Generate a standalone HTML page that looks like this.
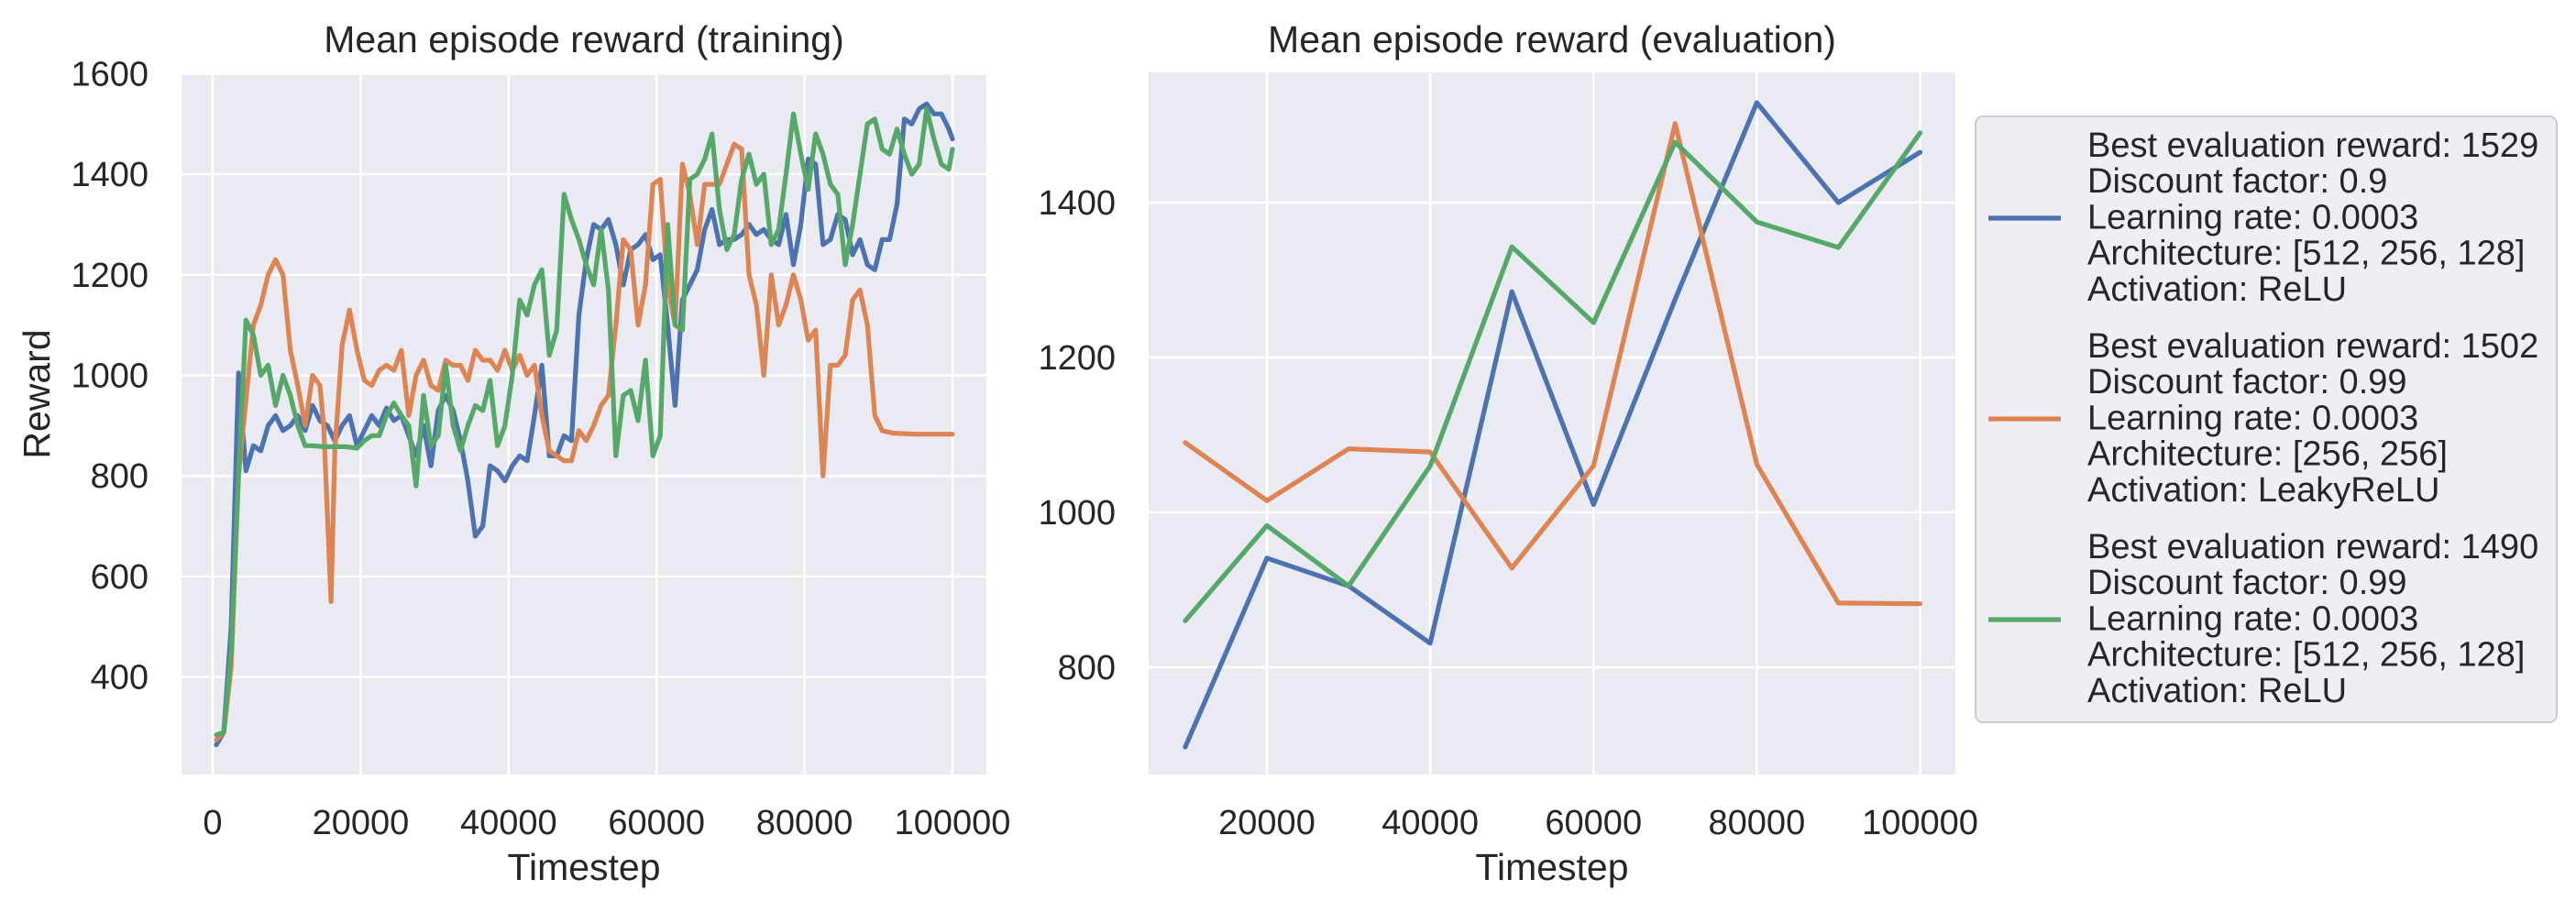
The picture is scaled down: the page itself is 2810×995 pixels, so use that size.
<!DOCTYPE html>
<html><head><meta charset="utf-8"><style>
html,body{margin:0;padding:0;background:#fff;}
svg text{font-family:"Liberation Sans",sans-serif;fill:#262626;}
</style></head><body>
<svg id="fig" width="2810" height="990" viewBox="0 0 2810 990" xmlns="http://www.w3.org/2000/svg">
<rect width="2810" height="990" fill="#fff"/>
<g id="left"></g>
<g id="right"></g>
<g id="legend"></g>
</svg>
<script>
// ---- training data (timestep in thousands) ----
const trainBlueX=[0.5,1.5,2.5,3.5,4,4.5,5.5,6.5,7.5,8.5,9.5,10.5,11.5,12.5,13.5,14.5,15.5,16.5,17.5,18.5,19.5,20.5,21.5,22.5,23.5,24.5,25.5,26.5,27.5,28.5,29.5,30.5,31.5,32.5,33.5,34.5,35.5,36.5,37.5,38.5,39.5,40.5,41.5,42.5,43.5,44.5,45.5,46.5,47.5,48.5,49.5,50.5,51.5,52.5,53.5,54.5,55.5,56.5,57.5,58.5,59.5,60.5,61.5,62.5,63.5,64.5,65.5,66.5,67.5,68.5,69.5,70.5,71.5,72.5,73.5,74.5,75.5,76.5,77.5,78.5,79.5,80.5,81.5,82.5,83.5,84.5,85.5,86.5,87.5,88.5,89.5,90.5,91.5,92.5,93.5,94.5,95.5,96.5,97.5,98.5,99.5,100];
const trainBlueY=[265,290,500,1005,900,810,860,850,900,920,890,900,920,890,940,910,900,870,900,920,860,890,920,900,935,910,920,880,840,900,820,930,960,930,870,790,680,700,820,810,790,820,840,830,920,1020,840,840,880,870,1120,1230,1300,1290,1310,1260,1180,1250,1260,1280,1230,1240,1100,940,1150,1180,1210,1290,1330,1260,1270,1270,1280,1300,1280,1290,1270,1260,1320,1220,1300,1430,1420,1260,1270,1320,1310,1240,1270,1220,1210,1270,1270,1340,1510,1500,1530,1540,1520,1520,1490,1470];
const trainOrangeX=[0.5,1.5,2.5,3.5,4.5,5.5,6.5,7.5,8.5,9.5,10.5,11.5,12.5,13.5,14.5,15,16,16.5,17.5,18.5,19.5,20.5,21.5,22.5,23.5,24.5,25.5,26.5,27.5,28.5,29.5,30.5,31.5,32.5,33.5,34.5,35.5,36.5,37.5,38.5,39.5,40.5,41.5,42.5,43.5,44.5,45.5,46.5,47.5,48.5,49.5,50.5,51.5,52.5,53.5,54.5,55.5,56.5,57.5,58.5,59.5,60.5,61.5,62.5,63.5,64.5,65.5,66.5,67.5,68.5,69.5,70.5,71.5,72.5,73.5,74.5,75.5,76.5,77.5,78.5,79.5,80.5,81.5,82.5,83.5,84.5,85.5,86.5,87.5,88.5,89.5,90.5,92,95,100];
const trainOrangeY=[275,290,420,800,950,1100,1140,1200,1230,1200,1050,980,900,1000,980,900,550,850,1060,1130,1050,990,980,1010,1020,1010,1050,920,1000,1030,980,970,1030,1020,1020,990,1050,1030,1030,1010,1050,1010,1040,1000,1020,920,850,840,830,830,890,870,900,940,960,1100,1270,1250,1100,1180,1380,1390,1180,1100,1420,1360,1260,1380,1380,1380,1420,1460,1450,1200,1140,1000,1200,1100,1140,1200,1150,1070,1090,800,1020,1020,1040,1150,1170,1100,920,890,885,883,883];
const trainGreenX=[0.5,1.5,2.5,3.5,4.5,5.5,6.5,7.5,8.5,9.5,10.5,11.5,12.5,13.5,15,18,19.5,20.5,21.5,22.5,23.5,24.5,25.5,26.5,27.5,28.5,29.5,30.5,31.5,32.5,33.5,34.5,35.5,36.5,37.5,38.5,39.5,40.5,41.5,42.5,43.5,44.5,45.5,46.5,47.5,48.5,49.5,50.5,51.5,52.5,53.5,54.5,55.5,56.5,57.5,58.5,59.5,60.5,61.5,62.5,63.5,64.5,65.5,66.5,67.5,68.5,69.5,70.5,71.5,72.5,73.5,74.5,75.5,76.5,77.5,78.5,79.5,80.5,81.5,82.5,83.5,84.5,85.5,86.5,87.5,88.5,89.5,90.5,91.5,92.5,93.5,94.5,95.5,96.5,97.5,98.5,99.5,100];
const trainGreenY=[285,290,450,800,1110,1080,1000,1020,940,1000,960,900,860,860,858,858,855,870,880,880,920,945,920,900,780,960,860,880,1020,900,850,900,940,930,990,860,900,1000,1150,1120,1180,1210,1040,1090,1360,1310,1270,1220,1180,1290,1170,840,960,970,910,1030,840,880,1300,1100,1090,1390,1400,1430,1480,1330,1250,1280,1390,1440,1380,1400,1260,1290,1400,1520,1440,1370,1480,1440,1380,1360,1220,1300,1400,1500,1510,1450,1440,1490,1440,1400,1420,1530,1470,1420,1410,1450];
// ---- evaluation data ----
const evalX=[10000,20000,30000,40000,50000,60000,70000,80000,90000,100000];
const evalBlue=[697,941,905,831,1285,1010,1275,1529,1400,1465];
const evalOrange=[1090,1015,1082,1078,928,1060,1502,1062,883,882];
const evalGreen=[860,983,905,1060,1343,1245,1478,1375,1342,1490];
// ---- ticks ----
const leftXTicks=[0,20000,40000,60000,80000,100000];
const leftYTicks=[400,600,800,1000,1200,1400,1600];
const rightXTicks=[20000,40000,60000,80000,100000];
const rightYTicks=[800,1000,1200,1400];
const legendEntries=[
 ["Best evaluation reward: 1529","Discount factor: 0.9","Learning rate: 0.0003","Architecture: [512, 256, 128]","Activation: ReLU"],
 ["Best evaluation reward: 1502","Discount factor: 0.99","Learning rate: 0.0003","Architecture: [256, 256]","Activation: LeakyReLU"],
 ["Best evaluation reward: 1490","Discount factor: 0.99","Learning rate: 0.0003","Architecture: [512, 256, 128]","Activation: ReLU"]];
const COLORS=["#4c72b0","#dd8452","#55a868"];
const NS="http://www.w3.org/2000/svg";
function mk(tag,attrs,parent){const e=document.createElementNS(NS,tag);for(const k in attrs)e.setAttribute(k,attrs[k]);parent.appendChild(e);return e;}

const lx=v=>232+(v/100000)*(1039-232);
const ly=v=>738.6-(v-400)/1200*(738.6-80.4);
const rx=v=>1382+(v-20000)/80000*(2094.5-1382);
const ry=v=>728-(v-800)/600*(728-221);

function drawAxes(g,x0,x1,y0,y1,xt,yt,fx,fy,labelRight,title,titleX){
  const bg=mk('rect',{x:x0,y:y0,width:x1-x0,height:y1-y0,fill:'#eaeaf2'},g);
  
  
  xt.forEach(t=>{
    const l=mk('line',{x1:fx(t),x2:fx(t),y1:y0,y2:y1,stroke:'#fff','stroke-width':2.5},g);
    
    
    const tx=mk('text',{x:fx(t),y:910,'text-anchor':'middle','font-size':38},g);
    tx.textContent=t;
    
    
  });
  yt.forEach(t=>{
    const l=mk('line',{x1:x0,x2:x1,y1:fy(t),y2:fy(t),stroke:'#fff','stroke-width':2.5},g);
    
    
    const tx=mk('text',{x:labelRight,y:fy(t)+13,'text-anchor':'end','font-size':38},g);
    tx.textContent=t;
    
    
  });
  const tt=mk('text',{x:titleX,y:57,'text-anchor':'middle','font-size':41},g);
  tt.textContent=title;
  
  
  const xl=mk('text',{x:titleX,y:960,'text-anchor':'middle','font-size':41},g);
  xl.textContent='Timestep';
  
  
}
function line(g,xs,ys,fx,fy,color,name){
  const d=xs.map((x,i)=>(i?'L':'M')+fx(x).toFixed(1)+','+fy(ys[i]).toFixed(1)).join('');
  const p=mk('path',{d:d,fill:'none',stroke:color,'stroke-width':5.2,'stroke-linejoin':'round','stroke-linecap':'round'},g);
  
  
}
const L=document.getElementById('left'),R=document.getElementById('right'),G=document.getElementById('legend');
drawAxes(L,198,1076,79,845,leftXTicks,leftYTicks,lx,ly,162,'Mean episode reward (training)',637);
const yl=mk('text',{x:0,y:0,'text-anchor':'middle','font-size':41,transform:'translate(54,430) rotate(-90)'},L);
yl.textContent='Reward';


const k=v=>lx(v*1000);
line(L,trainBlueX,trainBlueY,k,ly,COLORS[0],'training-line-blue');
line(L,trainOrangeX,trainOrangeY,k,ly,COLORS[1],'training-line-orange');
line(L,trainGreenX,trainGreenY,k,ly,COLORS[2],'training-line-green');

drawAxes(R,1253,2133,79,845,rightXTicks,rightYTicks,rx,ry,1217,'Mean episode reward (evaluation)',1693);
line(R,evalX,evalBlue,rx,ry,COLORS[0],'evaluation-line-blue');
line(R,evalX,evalOrange,rx,ry,COLORS[1],'evaluation-line-orange');
line(R,evalX,evalGreen,rx,ry,COLORS[2],'evaluation-line-green');

const box=mk('rect',{x:2155,y:127,width:634,height:661,rx:8,fill:'#eeeef4',stroke:'#cccccc','stroke-width':2},G);


legendEntries.forEach((lines,i)=>{
  const top=158+i*219;
  const h=mk('line',{x1:2169,x2:2248,y1:top+80,y2:top+80,stroke:COLORS[i],'stroke-width':5.2},G);
  
  
  lines.forEach((s,j)=>{
    const t=mk('text',{x:2277,y:top+j*39.2+13,'font-size':38},G);
    t.textContent=s;
    
    
  });
});
</script>
</body></html>
